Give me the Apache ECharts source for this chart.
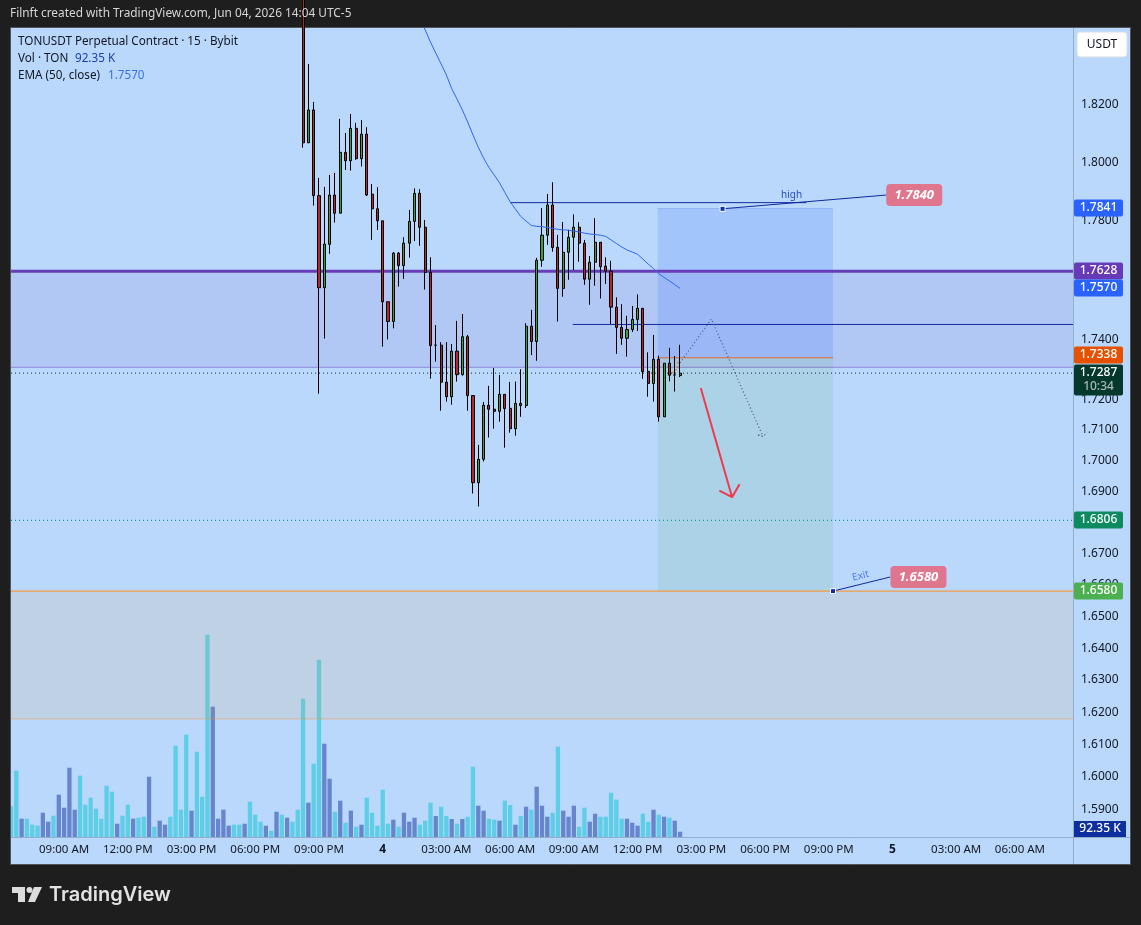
<!DOCTYPE html>
<html>
<head>
<meta charset="utf-8">
<title>TONUSDT Perpetual Contract</title>
<style>
  html, body { margin: 0; padding: 0; background: #1e1e1e; }
  #chart { width: 1141px; height: 925px; }
</style>
<script src="https://cdn.jsdelivr.net/npm/echarts@6/dist/echarts.min.js"></script>
</head>
<body>
<div id="chart"></div>
<script>
// 15-minute bars; the first visible candle sits at bar 55.
const firstCandleBar = 55;
const candles = [ // open, close, low, high
  [1.8600,1.8067,1.8050,1.8800],[1.8067,1.8181,1.8067,1.8342],[1.8181,1.7885,1.7851,1.8209],[1.7885,1.7572,1.7219,1.7946],
  [1.7572,1.7720,1.7402,1.7915],[1.7719,1.7887,1.7687,1.7956],[1.7887,1.7825,1.7793,1.7963],[1.7825,1.8034,1.7825,1.8150],
  [1.8034,1.8005,1.7973,1.8101],[1.8005,1.8117,1.7971,1.8167],[1.8117,1.8012,1.8008,1.8136],[1.8012,1.8097,1.7985,1.8146],
  [1.8097,1.7887,1.7884,1.8121],[1.7890,1.7840,1.7734,1.7925],[1.7840,1.7799,1.7768,1.7914],[1.7799,1.7525,1.7375,1.7799],
  [1.7525,1.7459,1.7399,1.7525],[1.7459,1.7689,1.7436,1.7693],[1.7689,1.7647,1.7576,1.7693],[1.7647,1.7723,1.7602,1.7743],
  [1.7723,1.7797,1.7674,1.7836],[1.7797,1.7893,1.7730,1.7910],[1.7893,1.7777,1.7714,1.7907],[1.7777,1.7624,1.7566,1.7802],
  [1.7624,1.7379,1.7269,1.7675],[1.7380,1.7380,1.7325,1.7447],[1.7380,1.7257,1.7163,1.7390],[1.7257,1.7209,1.7193,1.7390],
  [1.7209,1.7360,1.7183,1.7384],[1.7360,1.7282,1.7259,1.7461],[1.7282,1.7408,1.7279,1.7484],[1.7408,1.7213,1.7163,1.7414],
  [1.7213,1.6928,1.6893,1.7213],[1.6928,1.7004,1.6851,1.7051],[1.7004,1.7181,1.6997,1.7192],[1.7181,1.7168,1.7075,1.7245],
  [1.7168,1.7161,1.7104,1.7304],[1.7161,1.7217,1.7127,1.7281],[1.7217,1.7170,1.7042,1.7217],[1.7171,1.7104,1.7091,1.7258],
  [1.7104,1.7187,1.7081,1.7259],[1.7187,1.7180,1.7143,1.7300],[1.7180,1.7443,1.7172,1.7453],[1.7443,1.7392,1.7347,1.7498],
  [1.7392,1.7665,1.7328,1.7673],[1.7665,1.7750,1.7643,1.7843],[1.7750,1.7853,1.7717,1.7891],[1.7853,1.7708,1.7694,1.7931],
  [1.7709,1.7570,1.7459,1.7751],[1.7570,1.7692,1.7542,1.7795],[1.7692,1.7743,1.7599,1.7768],[1.7743,1.7777,1.7632,1.7821],
  [1.7777,1.7723,1.7660,1.7794],[1.7723,1.7601,1.7582,1.7734],[1.7601,1.7658,1.7515,1.7679],[1.7658,1.7726,1.7579,1.7808],
  [1.7726,1.7643,1.7536,1.7727],[1.7645,1.7628,1.7585,1.7675],[1.7628,1.7507,1.7450,1.7663],[1.7507,1.7439,1.7351,1.7540],
  [1.7439,1.7403,1.7381,1.7517],[1.7403,1.7432,1.7342,1.7478],[1.7432,1.7466,1.7424,1.7511],[1.7466,1.7503,1.7427,1.7550],
  [1.7503,1.7292,1.7268,1.7504],[1.7293,1.7253,1.7209,1.7356],[1.7253,1.7333,1.7193,1.7414],[1.7333,1.7143,1.7127,1.7345],
  [1.7143,1.7320,1.7143,1.7320],[1.7320,1.7280,1.7260,1.7371],[1.7281,1.7281,1.7226,1.7344],[1.7279,1.7287,1.7274,1.7381]
];

// EMA(50) from bar 77 to the last bar.
const firstEmaBar = 77;
const emaValues = [
  1.8502,1.8462,1.8419,1.8380,1.8342,1.8303,1.8255,1.8219,1.8181,1.8139,1.8094,1.8052,1.8014,1.7982,1.7956,1.7929,1.7896,
  1.7864,1.7839,1.7814,1.7798,1.7783,1.7780,1.7779,1.7776,1.7773,1.7770,1.7768,1.7767,1.7764,1.7761,1.7757,1.7754,1.7752,
  1.7750,1.7746,1.7734,1.7722,1.7710,1.7700,1.7693,1.7685,1.7669,1.7652,1.7637,1.7619,1.7607,1.7595,1.7583,1.7570
];

// Volume per bar, in thousands of TON.
const volumes = [
  534,1154,318,318,214,197,423,266,371,736,
  510,1206,475,1067,562,684,492,318,893,788,
  231,371,562,318,336,353,1049,179,284,214,
  353,1589,475,1780,458,1484,701,3520,2267,318,
  475,197,214,214,231,614,388,266,197,110,
  440,388,336,266,475,2406,597,1275,3085,1623,
  1014,440,632,249,458,179,214,684,423,197,
  823,231,301,179,423,266,336,214,284,597,
  365,527,365,313,231,313,353,1223,545,458,
  318,301,284,632,557,214,365,527,475,875,
  545,353,423,1571,458,353,545,179,510,266,
  405,353,353,771,649,318,318,249,197,405,
  266,475,388,353,336,284,92.35
];
const volumeRising = [
  0,0,1,0,0,0,1,1,0,1, 1,1,1,0,0,0,0,0,0,0, 1,0,0,1,0,0,1,0,1,1, 0,0,0,0,1,0,0,0,1,1,
  1,1,0,0,1,0,0,0,1,0, 1,0,1,0,0,0,1,0,0,1, 1,0,1,0,1,0,1,0,0,0, 0,0,1,0,1,1,1,0,0,0,
  1,0,0,1,0,1,0,0,1,1, 0,0,1,0,0,1,0,1,0,1, 1,1,0,0,1,1,1,0,0,1, 1,0,0,0,0,0,1,1,1,0,
  0,1,0,1,0,1,1
];

// Axis labels: one time label every twelve bars, starting at bar 10.
const barCount = 201;
const firstTimeLabelBar = 10;
const timeLabels = ['09:00 AM','12:00 PM','03:00 PM','06:00 PM','09:00 PM','4','03:00 AM','06:00 AM',
                    '09:00 AM','12:00 PM','03:00 PM','06:00 PM','09:00 PM','5','03:00 AM','06:00 AM'];
const dayLabels = ['4', '5'];
const priceTicks = [1.82,1.80,1.78,1.74,1.72,1.71,1.70,1.69,1.67,1.66,1.65,1.64,1.63,1.62,1.61,1.60,1.59];

// Price levels of the drawings.
const resistanceTop = 1.7628, resistanceBottom = 1.7306;
const supportTop = 1.6580, supportBottom = 1.6179;
const lastPrice = 1.7287, ema50Last = 1.7570, lowLevel = 1.6806;
const highLine = 1.7861, midLine = 1.7449;
const stopPrice = 1.7841, entryPrice = 1.7338, targetPrice = 1.6580;

// Price scale tags on the right-hand side.
const tagPrices = [1.7841, 1.7628, 1.7570, 1.7338, 1.6806, 1.6580, 1.7287];
const tagTexts  = ['1.7841','1.7628','1.7570','1.7338','1.6806','1.6580','1.7287'];
const tagColors = ['#2962ff','#673ab7','#2962ff','#e65100','#0d8a5f','#4caf50','#05382c'];
const tagNudges = [0, 0, 0, -3, 0, 0, 0];
const countdownText = '10:34';

// Pink callouts and the small notes beside them.
const calloutTexts = ['1.7840', '1.6580'];
const noteTexts = ['high', 'Exit'];

const ink = '#131722';
const uiFont = '"Noto Sans", sans-serif';
const pageColor = '#1e1e1e';

const paneLeft = 11, paneRight = 1073, paneTop = 28, paneBottom = 837;
const frameRight = 1130, frameBottom = 864;

// Helper for straight or polyline drawings on the hidden numeric bar axis.
function drawing(name, points, lineStyle, z) {
  return { type: 'line', name, xAxisIndex: 1, yAxisIndex: 0, data: points, symbol: 'none',
           silent: true, lineStyle, z: z || 4 };
}

function zoneSeries(name, zones, z) {
  return {
    type: 'custom', name, xAxisIndex: 1, yAxisIndex: 0, silent: true, z,
    encode: { x: [0, 2], y: [1, 3] },
    data: zones.map(d => [d.x0, d.top, d.x1, d.bottom]),
    renderItem(params, api) {
      const a = api.coord([api.value(0), api.value(1)]);
      const b = api.coord([api.value(2), api.value(3)]);
      return { type: 'rect', shape: { x: a[0], y: a[1], width: b[0] - a[0], height: b[1] - a[1] },
               style: { fill: zones[params.dataIndex].fill } };
    }
  };
}

const series = [
  {
    type: 'bar', name: 'Vol', xAxisIndex: 0, yAxisIndex: 1, barWidth: 4.3, z: 2, silent: true, clip: true,
    data: volumes.map((v, i) => ({ value: v, itemStyle: { color: volumeRising[i] ? '#6785cc' : '#5ecde6' } }))
  },
  zoneSeries('Zones', [
    { x0: 0, x1: 200, top: resistanceTop, bottom: resistanceBottom, fill: 'rgba(103,58,183,0.10)' },
    { x0: 0, x1: 200, top: supportTop, bottom: supportBottom, fill: 'rgba(255,152,0,0.09)' },
    { x0: 121.8, x1: 154.8, top: stopPrice, bottom: entryPrice, fill: 'rgba(41,98,255,0.16)' },
    { x0: 121.8, x1: 154.8, top: entryPrice, bottom: targetPrice, fill: 'rgba(76,175,80,0.12)' }
  ], 3),
  drawing('Resistance top', [[0, resistanceTop], [200, resistanceTop]], { color: '#6a3db8', width: 3 }),
  drawing('Resistance bottom', [[0, resistanceBottom], [200, resistanceBottom]], { color: 'rgba(103,58,183,0.38)', width: 1.2 }),
  drawing('Support top', [[0, supportTop], [200, supportTop]], { color: '#f29a45', width: 1.2 }),
  drawing('Support bottom', [[0, supportBottom], [200, supportBottom]], { color: 'rgba(240,150,70,0.5)', width: 1 }),
  drawing('Stop edge', [[121.8, stopPrice], [154.8, stopPrice]], { color: '#93b6f7', width: 1 }),
  drawing('Entry', [[121.8, entryPrice], [154.8, entryPrice]], { color: '#e0682c', width: 1 }),
  drawing('High line', [[94, highLine], [149.8, highLine]], { color: '#0f2a9e', width: 1 }),
  drawing('Mid line', [[105.8, midLine], [200, midLine]], { color: '#0f2a9e', width: 1 }),
  drawing('Last price', [[0, lastPrice], [200, lastPrice]], { color: '#14302a', width: 1, type: [1, 3] }),
  drawing('Low level', [[0, lowLevel], [200, lowLevel]], { color: '#12a08a', width: 1.2, type: [1, 3] }),
  drawing('Projection', [[126, 1.7321], [131.9, 1.7467], [141.6, 1.7079], [140.5, 1.7084], [141.6, 1.7079], [142.4, 1.7091]],
          { color: '#4a5a75', width: 1.2, type: [1, 2.5] }),
  drawing('Entry trail', [[125.6, 1.7324], [125.6, 1.7304], [124.5, 1.7287]], { color: '#e8702a', width: 1.2, type: [2, 2] }),
  drawing('Down arrow', [[129.9, 1.7238], [135.8, 1.6881], [133.4, 1.6902], [135.8, 1.6881], [137.2, 1.6923]],
          { color: '#f2394b', width: 2 }, 6),
  drawing('High callout', [[134, 1.7840], [164.8, 1.7887]], { color: '#0f2a9e', width: 1 }, 5),
  drawing('Exit callout', [[154.8, 1.6580], [165.6, 1.6625]], { color: '#0f2a9e', width: 1 }, 5),
  {
    type: 'scatter', name: 'Callout anchors', xAxisIndex: 1, yAxisIndex: 0, symbol: 'rect', symbolSize: 5, z: 6, silent: true,
    data: [[134, 1.7840], [154.8, 1.6580]],
    itemStyle: { color: '#12309c', borderColor: '#ffffff', borderWidth: 1, opacity: 1 }
  },
  {
    type: 'candlestick', name: 'TONUSDT', xAxisIndex: 0, yAxisIndex: 0, barWidth: 2.6, z: 5, silent: true, clip: true,
    data: Array.from({ length: firstCandleBar }, () => ['-', '-', '-', '-']).concat(candles),
    itemStyle: { color: '#37a141', color0: '#c3202e', borderColor: '#000000', borderColor0: '#000000', borderColorDoji: '#000000', borderWidth: 1 }
  },
  drawing('EMA 50', emaValues.map((v, k) => [k + firstEmaBar, v]), { color: '#2f66f0', width: 1 }, 6),
  {
    // Pink price callouts.
    type: 'custom', name: 'Callout boxes', xAxisIndex: 1, yAxisIndex: 0, silent: true, z: 7,
    data: [[170.1, 1.7887], [170.9, 1.6625]],
    encode: { x: 0, y: 1 },
    renderItem(params, api) {
      const p = api.coord([api.value(0), api.value(1)]);
      return { type: 'group', children: [
        { type: 'rect', shape: { x: p[0] - 28, y: p[1] - 11, width: 56, height: 22, r: 4 }, style: { fill: '#df768e' } },
        { type: 'text', style: { x: p[0], y: p[1], text: calloutTexts[params.dataIndex], fill: '#ffffff', font: 'italic bold 13px ' + uiFont,
          textAlign: 'center', textVerticalAlign: 'middle' } }
      ] };
    }
  },
  {
    // Small notes written along the callout lines.
    type: 'custom', name: 'Notes', xAxisIndex: 1, yAxisIndex: 0, silent: true, z: 7,
    data: [[147, 1.7887, 0], [160, 1.6628, 0.24]],
    encode: { x: 0, y: 1 },
    renderItem(params, api) {
      const p = api.coord([api.value(0), api.value(1)]);
      return { type: 'text', x: p[0], y: p[1], rotation: api.value(2),
        style: { text: noteTexts[params.dataIndex], fill: params.dataIndex ? '#4f7dee' : '#2a4fc0', font: '10px ' + uiFont,
                 textAlign: 'center', textVerticalAlign: 'middle' } };
    }
  },
  {
    // Right-hand price tags.
    type: 'custom', name: 'Price tags', xAxisIndex: 1, yAxisIndex: 0, silent: true, z: 8,
    data: tagPrices.map((p, i) => [200, p, i]),
    encode: { x: 0, y: 1 },
    renderItem(params, api) {
      const i = api.value(2);
      const y = Math.round(api.coord([200, api.value(1)])[1]) + tagNudges[i];
      const isLast = i === tagPrices.length - 1;
      const children = [
        { type: 'rect', shape: { x: paneRight + 1, y: y - 8.5, width: 49, height: isLast ? 31 : 17, r: 2 }, style: { fill: tagColors[i] } },
        { type: 'text', style: { x: paneRight + 25.5, y: y, text: tagTexts[i], fill: '#ffffff', font: '500 12px ' + uiFont,
          textAlign: 'center', textVerticalAlign: 'middle' } }
      ];
      if (isLast) {
        children.push({ type: 'text', style: { x: paneRight + 25.5, y: y + 14, text: countdownText, fill: '#a9b8b3', font: '500 12px ' + uiFont,
          textAlign: 'center', textVerticalAlign: 'middle' } });
      }
      return { type: 'group', children };
    }
  },
  {
    // Tag for the running volume.
    type: 'custom', name: 'Volume tag', xAxisIndex: 1, yAxisIndex: 1, silent: true, z: 8,
    data: [[200, volumes[volumes.length - 1]]],
    encode: { x: 0, y: 1 },
    renderItem(params, api) {
      const p = api.coord([api.value(0), 0]);
      return { type: 'group', children: [
        { type: 'rect', shape: { x: p[0] + 1, y: p[1] - 16, width: 52, height: 16 }, style: { fill: '#0e2f9f' } },
        { type: 'text', style: { x: p[0] + 27, y: p[1] - 8, text: '92.35 K', fill: '#ffffff', font: '500 12px ' + uiFont,
          textAlign: 'center', textVerticalAlign: 'middle' } }
      ] };
    }
  }
];

function paneText(text, x, y, fill, font) {
  return { type: 'text', z: 20, silent: true, x, y,
           style: { text, fill, font: font || '11.7px ' + uiFont, textVerticalAlign: 'middle' } };
}

const graphic = [
  // Dark page frame and pale-blue pane
  { type: 'rect', z: -5, silent: true, shape: { x: 10.5, y: 27.5, width: frameRight - 10, height: frameBottom - 27 },
    style: { fill: '#b9d8fc', stroke: '#50555c', lineWidth: 1 } },
  { type: 'line', z: 1, silent: true, shape: { x1: paneRight + 0.5, y1: paneTop, x2: paneRight + 0.5, y2: frameBottom }, style: { stroke: '#93aec9', lineWidth: 1 } },
  { type: 'line', z: 1, silent: true, shape: { x1: paneLeft, y1: paneBottom + 0.5, x2: frameRight, y2: paneBottom + 0.5 }, style: { stroke: '#93aec9', lineWidth: 1 } },

  // The first volume bar straddles the left pane edge, so the margin is painted over it.
  { type: 'rect', z: 9, silent: true, shape: { x: 0, y: paneTop, width: 10, height: frameBottom - paneTop }, style: { fill: pageColor } },
  { type: 'line', z: 9, silent: true, shape: { x1: 10.5, y1: paneTop, x2: 10.5, y2: frameBottom }, style: { stroke: '#50555c', lineWidth: 1 } },

  paneText('Filnft created with TradingView.com, Jun 04, 2026 14:04 UTC-5', 10, 14, '#d6d6d6', '11.85px ' + uiFont),
  paneText('TONUSDT Perpetual Contract · 15 · Bybit', 18, 42, ink),
  paneText('Vol · TON', 18, 59, ink),
  paneText('92.35 K', 75, 59, '#1e3fae'),
  paneText('EMA (50, close)', 18, 76, ink),
  paneText('1.7570', 108, 76, '#3a6ee8'),

  // Currency button
  { type: 'rect', z: 20, silent: true, shape: { x: 1077, y: 32, width: 50, height: 25, r: 3 }, style: { fill: '#ffffff', stroke: '#d6dce3', lineWidth: 1 } },
  { type: 'text', z: 21, silent: true, x: 1102, y: 44.5, style: { text: 'USDT', fill: ink, font: '12px ' + uiFont, textAlign: 'center', textVerticalAlign: 'middle' } },

  // Brand mark
  { type: 'polygon', z: 20, silent: true, shape: { points: [[12, 887], [25, 887], [25, 902], [18, 902], [18, 893], [12, 893]] }, style: { fill: '#dcdcdc' } },
  { type: 'circle', z: 20, silent: true, shape: { cx: 29.5, cy: 890, r: 3 }, style: { fill: '#dcdcdc' } },
  { type: 'polygon', z: 20, silent: true, shape: { points: [[34, 887], [42, 887], [35, 902], [28, 902]] }, style: { fill: '#dcdcdc' } },
  { type: 'text', z: 20, silent: true, x: 49, y: 895, style: { text: 'TradingView', fill: '#e2e2e2', font: '600 20px Inter, sans-serif', textVerticalAlign: 'middle' } }
];

const chart = echarts.init(document.getElementById('chart'), null, { renderer: 'canvas' });
chart.setOption({
  animation: false,
  backgroundColor: pageColor,
  graphic,
  grid: { left: paneLeft, top: paneTop, width: paneRight - paneLeft, height: paneBottom - paneTop, containLabel: false },
  xAxis: [
    {
      type: 'category', boundaryGap: false,
      data: Array.from({ length: barCount }, (_, i) => String(i)),
      axisLine: { show: false }, axisTick: { show: false }, splitLine: { show: false },
      axisLabel: {
        interval: i => (i - firstTimeLabelBar) % 12 === 0 && i >= firstTimeLabelBar,
        margin: 7, color: ink, fontFamily: 'Noto Sans', fontSize: 11.5,
        formatter(value, index) {
          const label = timeLabels[(index - firstTimeLabelBar) / 12] || '';
          return dayLabels.includes(label) ? '{day|' + label + '}' : label;
        },
        rich: { day: { fontWeight: 'bold', color: ink, fontFamily: 'Noto Sans', fontSize: 12 } }
      }
    },
    { type: 'value', min: 0, max: barCount - 1, show: false }
  ],
  yAxis: [
    {
      type: 'log', min: 1.58171, max: 1.84687, position: 'right',
      axisLine: { show: false }, axisTick: { show: false }, splitLine: { show: false }, minorTick: { show: false },
      axisLabel: {
        customValues: priceTicks,
        margin: 8, color: ink, fontFamily: 'Noto Sans', fontSize: 12,
        formatter: v => Number(v).toFixed(4)
      }
    },
    { type: 'value', min: 0, max: 14077, show: false, position: 'left' }
  ],
  series
});
</script>
</body>
</html>
